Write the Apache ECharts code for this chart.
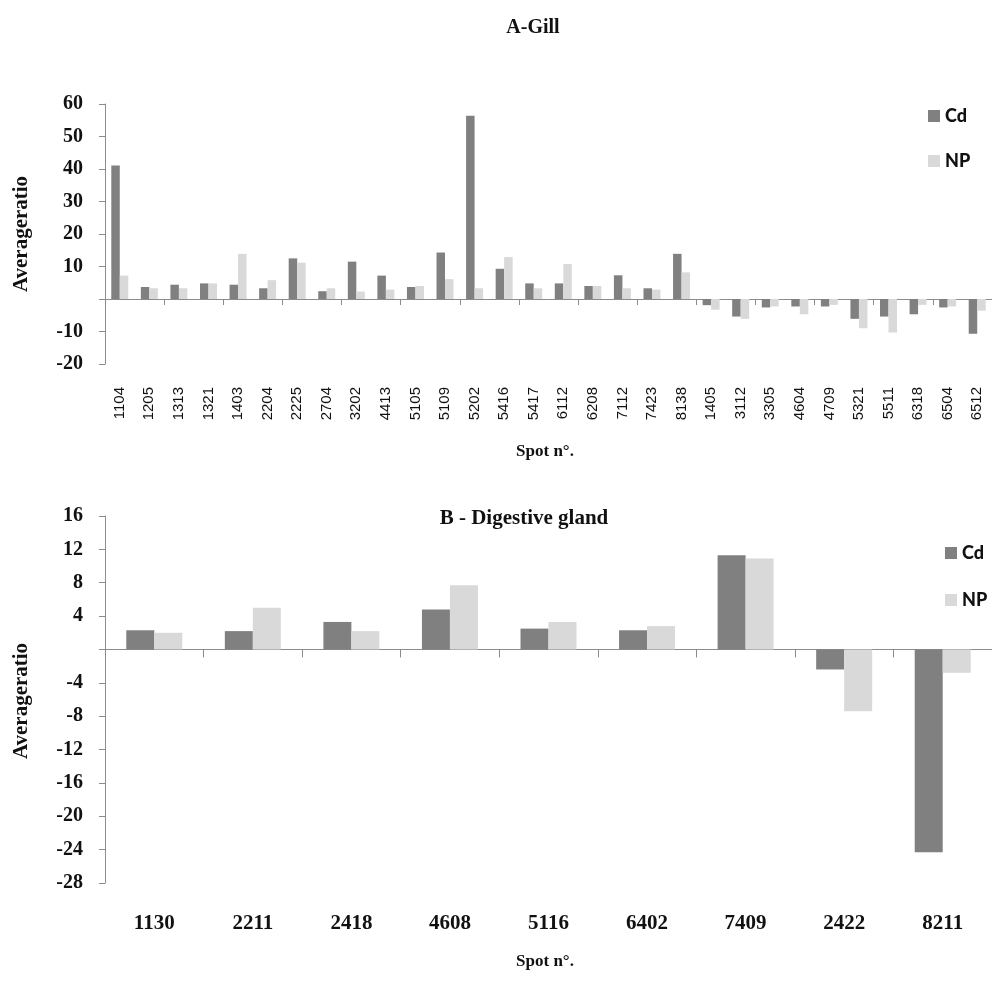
<!DOCTYPE html>
<html>
<head>
<meta charset="utf-8">
<script src="https://cdn.jsdelivr.net/npm/echarts@6/dist/echarts.min.js"></script>
<style>
html,body{margin:0;padding:0;background:#fff;}
#chart{width:992px;height:983px;}
</style>
</head>
<body>
<div id="chart"></div>
<script>
var gillSpots = ['1104','1205','1313','1321','1403','2204','2225','2704','3202','4413','5105','5109','5202','5416','5417','6112','6208','7112','7423','8138','1405','3112','3305','4604','4709','5321','5511','6318','6504','6512'];
var gillCd = [41.1,3.7,4.4,4.8,4.4,3.3,12.5,2.4,11.5,7.2,3.7,14.3,56.4,9.3,4.8,4.8,4.0,7.3,3.3,13.9,-1.9,-5.4,-2.6,-2.3,-2.3,-6.1,-5.4,-4.7,-2.6,-10.7];
var gillNP = [7.2,3.3,3.3,4.8,13.9,5.8,11.2,3.3,2.3,2.9,4.0,6.1,3.3,12.9,3.3,10.8,4.0,3.3,2.9,8.2,-3.3,-6.1,-2.3,-4.7,-1.8,-9.0,-10.3,-1.8,-2.3,-3.6];
var gillTicks = [-20,-10,0,10,20,30,40,50,60];

var digSpots = ['1130','2211','2418','4608','5116','6402','7409','2422','8211'];
var digCd = [2.3,2.2,3.3,4.8,2.5,2.3,11.3,-2.4,-24.3];
var digNP = [2.0,5.0,2.2,7.7,3.3,2.8,10.9,-7.4,-2.8];
var digTicks = [-28,-24,-20,-16,-12,-8,-4,0,4,8,12,16];

var serif = '"Liberation Serif","Times New Roman",serif';
var sans = 'Lato,"Open Sans",sans-serif';
var axisGrey = '#8c8c8c';
var cdColor = '#808080';
var npColor = '#d9d9d9';

function hideZero(v){ return v === 0 ? '' : String(v); }

var chart = echarts.init(document.getElementById('chart'), null, {renderer:'canvas'});

var yLabel = {fontFamily: serif, fontWeight: 'bold', fontSize: 20, color: '#111', margin: 22, formatter: hideZero};

var option = {
  animation: false,
  backgroundColor: '#fff',
  grid: [
    {left: 105, top: 104, width: 891, height: 260},
    {left: 105, top: 516, width: 894, height: 367}
  ],
  legend: [
    {data: ['Cd','NP'], orient: 'vertical', left: 923, top: 101, itemWidth: 12, itemHeight: 12, itemGap: 25,
     icon: 'rect', textStyle: {fontFamily: sans, fontWeight: 900, fontSize: 18, color: '#111', lineHeight: 20}},
    {data: ['Cd','NP'], orient: 'vertical', left: 940, top: 538, itemWidth: 12, itemHeight: 12, itemGap: 27,
     icon: 'rect', textStyle: {fontFamily: sans, fontWeight: 900, fontSize: 18, color: '#111', lineHeight: 20}}
  ],
  xAxis: [
    {type: 'category', gridIndex: 0, data: gillSpots, position: 'bottom',
     axisLine: {onZero: true, lineStyle: {color: axisGrey, width: 1}},
     axisTick: {show: true, length: 6, lineStyle: {color: axisGrey}},
     axisLabel: {show: false}, splitLine: {show: false}},
    {type: 'category', gridIndex: 0, data: gillSpots, position: 'bottom',
     axisLine: {show: false, onZero: false}, axisTick: {show: false},
     axisLabel: {show: true, rotate: 90, interval: 0, margin: 23, fontFamily: '"Liberation Sans",Arial,sans-serif', fontSize: 15, color: '#111'},
     splitLine: {show: false}},
    {type: 'category', gridIndex: 1, data: digSpots, position: 'bottom',
     axisLine: {onZero: true, lineStyle: {color: axisGrey, width: 1}},
     axisTick: {show: true, length: 8, lineStyle: {color: axisGrey}},
     axisLabel: {show: false}, splitLine: {show: false}},
    {type: 'category', gridIndex: 1, data: digSpots, position: 'bottom',
     axisLine: {show: false, onZero: false}, axisTick: {show: false},
     axisLabel: {show: true, interval: 0, margin: 30, fontFamily: serif, fontWeight: 'bold', fontSize: 21, color: '#111'},
     splitLine: {show: false}}
  ],
  yAxis: [
    {type: 'value', gridIndex: 0, min: gillTicks[0], max: gillTicks[gillTicks.length-1], interval: 10,
     axisLine: {show: true, lineStyle: {color: axisGrey}},
     axisTick: {show: true, length: 6, lineStyle: {color: axisGrey}},
     axisLabel: yLabel, splitLine: {show: false}},
    {type: 'value', gridIndex: 1, min: digTicks[0], max: digTicks[digTicks.length-1], interval: 4,
     axisLine: {show: true, lineStyle: {color: axisGrey}},
     axisTick: {show: true, length: 6, lineStyle: {color: axisGrey}},
     axisLabel: yLabel, splitLine: {show: false}}
  ],
  series: [
    {name: 'Cd', type: 'bar', xAxisIndex: 0, yAxisIndex: 0, data: gillCd, barWidth: 8.5, barGap: '0%', itemStyle: {color: cdColor}},
    {name: 'NP', type: 'bar', xAxisIndex: 0, yAxisIndex: 0, data: gillNP, barWidth: 8.5, barGap: '0%', itemStyle: {color: npColor}},
    {name: 'Cd', type: 'bar', xAxisIndex: 2, yAxisIndex: 1, data: digCd, barWidth: 28, barGap: '0%', itemStyle: {color: cdColor}},
    {name: 'NP', type: 'bar', xAxisIndex: 2, yAxisIndex: 1, data: digNP, barWidth: 28, barGap: '0%', itemStyle: {color: npColor}}
  ],
  graphic: [
    {type: 'text', x: 533, y: 28, style: {text: 'A-Gill', font: 'bold 20px ' + serif, fill: '#111', textAlign: 'center', textVerticalAlign: 'middle'}},
    {type: 'text', x: 524, y: 519, style: {text: 'B - Digestive gland', font: 'bold 21px ' + serif, fill: '#111', textAlign: 'center', textVerticalAlign: 'middle'}},
    {type: 'text', x: 22, y: 234, rotation: Math.PI/2, style: {text: 'Averageratio', font: 'bold 21px ' + serif, fill: '#111', textAlign: 'center', textVerticalAlign: 'middle'}},
    {type: 'text', x: 22, y: 701, rotation: Math.PI/2, style: {text: 'Averageratio', font: 'bold 21px ' + serif, fill: '#111', textAlign: 'center', textVerticalAlign: 'middle'}},
    {type: 'text', x: 545, y: 452, style: {text: 'Spot n°.', font: 'bold 17px ' + serif, fill: '#111', textAlign: 'center', textVerticalAlign: 'middle'}},
    {type: 'text', x: 545, y: 962, style: {text: 'Spot n°.', font: 'bold 17px ' + serif, fill: '#111', textAlign: 'center', textVerticalAlign: 'middle'}}
  ]
};
chart.setOption(option);
</script>
</body>
</html>
